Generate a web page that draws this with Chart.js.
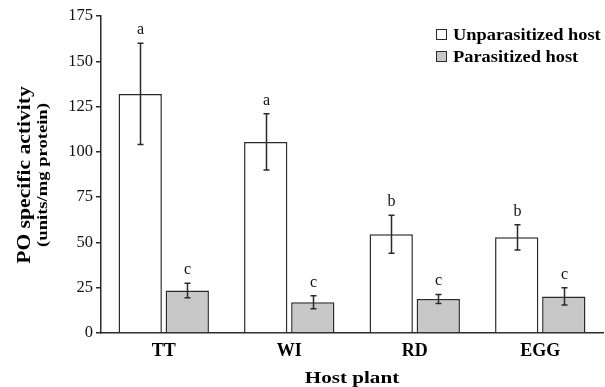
<!DOCTYPE html>
<html lang="en">
  <head>
    <meta charset="UTF-8" />
    <title>PO specific activity by host plant</title>
    <style>
      html, body {
        margin: 0;
        padding: 0;
        background: #ffffff;
      }
      .wrap {
        width: 605px;
        height: 387px;
        position: relative;
      }
    </style>
  </head>
  <body>
    <div class="wrap">
      <canvas id="poChart" width="605" height="387"></canvas>
    </div>
    <script src="https://cdn.jsdelivr.net/npm/chart.js@4.4.2/dist/chart.umd.min.js"></script>
    <script>
      // Values (mean ± error, units/mg protein)
      const categories = ["TT", "WI", "RD", "EGG"];
      const seriesNames = ["Unparasitized host", "Parasitized host"];
      const unparasitized = [132, 105.5, 54.5, 52.8];
      const unparasitizedErr = [28, 15.5, 10.5, 7];
      const parasitized = [23.5, 17, 18.8, 20.2];
      const parasitizedErr = [4, 3.6, 2.5, 4.8];
      const unparasitizedLetters = ["a", "a", "b", "b"];
      const parasitizedLetters = ["c", "c", "c", "c"];
      const yTicks = [0, 25, 50, 75, 100, 125, 150, 175];

      const serif = "'Liberation Serif', 'Times New Roman', serif";
      const ink = "#2a2a2a";
      const fills = ["#ffffff", "#c8c8c8"];
      const errors = [unparasitizedErr, parasitizedErr];
      const letters = [unparasitizedLetters, parasitizedLetters];

      // text drawn a bit wider than the font, like the original figure
      function wideText(ctx, text, x, y, font, sx, align) {
        ctx.save();
        ctx.font = font;
        ctx.translate(x, y);
        ctx.scale(sx, 1);
        ctx.textAlign = align || "left";
        ctx.textBaseline = "alphabetic";
        ctx.fillText(text, 0, 0);
        ctx.restore();
      }

      const errorBars = {
        id: "errorBars",
        afterDatasetsDraw(chart) {
          const { ctx } = chart;
          const yScale = chart.scales.y;
          ctx.save();
          chart.data.datasets.forEach((ds, di) => {
            const meta = chart.getDatasetMeta(di);
            meta.data.forEach((bar, i) => {
              const v = ds.data[i];
              const e = errors[di][i];
              const top = yScale.getPixelForValue(v + e);
              const bot = yScale.getPixelForValue(v - e);
              const x = Math.round(bar.x) + 0.5;
              ctx.strokeStyle = ink;
              ctx.lineWidth = 1.5;
              ctx.beginPath();
              ctx.moveTo(x, top);
              ctx.lineTo(x, bot);
              ctx.moveTo(x - 3, top);
              ctx.lineTo(x + 3, top);
              ctx.moveTo(x - 3, bot);
              ctx.lineTo(x + 3, bot);
              ctx.stroke();

              ctx.fillStyle = "#111";
              ctx.font = "16px " + serif;
              ctx.textAlign = "center";
              ctx.textBaseline = "alphabetic";
              ctx.fillText(letters[di][i], x, top - 9);
            });
          });
          ctx.restore();
        },
      };

      const decorations = {
        id: "decorations",
        afterDraw(chart) {
          const { ctx, chartArea } = chart;
          ctx.save();

          // legend
          const rows = [34, 56];
          chart.data.datasets.forEach((ds, di) => {
            const cy = rows[di];
            ctx.fillStyle = ds.backgroundColor;
            ctx.fillRect(436, cy - 5, 10, 10);
            ctx.strokeStyle = ink;
            ctx.lineWidth = 1;
            ctx.strokeRect(436.5, cy - 4.5, 10, 10);
            ctx.fillStyle = "#000";
            wideText(ctx, ds.label, 453, cy + 5.5, "bold 16px " + serif, 1.15);
          });

          // x axis title
          ctx.fillStyle = "#000";
          const midX = (chartArea.left + chartArea.right) / 2;
          wideText(ctx, "Host plant", midX, 383, "bold 17px " + serif, 1.24, "center");

          // y axis title, two lines
          const midY = 175;
          ctx.save();
          ctx.translate(30, midY);
          ctx.rotate(-Math.PI / 2);
          wideText(ctx, "PO specific activity", 0, 0, "bold 18px " + serif, 1.2, "center");
          ctx.restore();
          ctx.save();
          ctx.translate(47, midY);
          ctx.rotate(-Math.PI / 2);
          wideText(ctx, "(units/mg protein)", 0, 0, "bold 15.5px " + serif, 1.2, "center");
          ctx.restore();

          ctx.restore();
        },
      };

      const canvas = document.getElementById("poChart");

      new Chart(canvas, {
        type: "bar",
        data: {
          labels: categories,
          datasets: [
            {
              label: seriesNames[0],
              data: unparasitized,
              backgroundColor: fills[0],
              borderColor: ink,
              borderWidth: 1.5,
            },
            {
              label: seriesNames[1],
              data: parasitized,
              backgroundColor: fills[1],
              borderColor: ink,
              borderWidth: 1.5,
            },
          ],
        },
        options: {
          responsive: false,
          animation: false,
          devicePixelRatio: 1,
          layout: { padding: { top: 16, right: 2, left: 0, bottom: 0 } },
          datasets: {
            bar: {
              categoryPercentage: 0.75,
              barPercentage: 0.92,
            },
          },
          plugins: {
            legend: { display: false },
            tooltip: { enabled: false },
          },
          scales: {
            x: {
              grid: { display: false },
              border: { display: true, color: ink, width: 1.5 },
              ticks: {
                color: "#000",
                font: { family: serif, size: 18, weight: "bold" },
                padding: 0,
              },
              afterFit(scale) {
                scale.height = 54;
              },
            },
            y: {
              min: 0,
              max: 175,
              afterBuildTicks(scale) {
                scale.ticks = yTicks.map((v) => ({ value: v }));
              },
              grid: {
                drawOnChartArea: false,
                drawTicks: true,
                tickLength: 5,
                color: ink,
                lineWidth: 1.5,
              },
              border: { display: true, color: ink, width: 1.5 },
              ticks: {
                color: "#111",
                font: { family: serif, size: 16.5 },
                padding: 3,
              },
              afterFit(scale) {
                scale.width = 101;
              },
            },
          },
        },
        plugins: [errorBars, decorations],
      });
    </script>
  </body>
</html>
